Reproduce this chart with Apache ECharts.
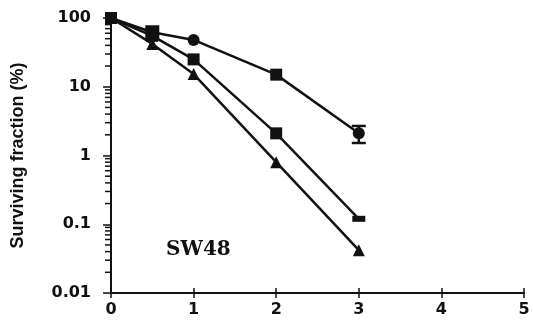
<!DOCTYPE html>
<html>
<head>
<meta charset="utf-8">
<script src="https://cdn.jsdelivr.net/npm/echarts@6/dist/echarts.min.js"></script>
<style>
  html, body { margin: 0; padding: 0; background: #fff; }
  #chart { width: 533px; height: 324px; }
</style>
</head>
<body>
<div id="chart"></div>
<script>
// dose (x) and surviving fraction (%) per curve
var doses = [0, 0.5, 1, 2, 3];
var circleVals = [100, 62, 48, 15, 2.1];
var squareVals = [100, 55, 25, 2.1, 0.12];
var triangleVals = [100, 42, 15.3, 0.8, 0.042];
var errBar = [[3, 1.52, 2.69]]; // x, low, high
var yTicks = [0.01, 0.1, 1, 10, 100];
var xTicks = [0, 1, 2, 3, 4, 5];

var ink = '#111';
var dom = document.getElementById('chart');
var chart = echarts.init(dom);

function pairs(vals) {
    return doses.map(function (d, i) { return [d, vals[i]]; });
}

// log minor ticks 2..9 within every decade
var minor = [];
for (var k = 0; k < yTicks.length - 1; k++) {
    for (var m = 2; m <= 9; m++) minor.push([0, m * yTicks[k]]);
}

var labelFont = { fontFamily: 'DejaVu Sans', fontWeight: 'bold', fontSize: 16, color: ink };

var option = {
    animation: false,
    grid: { left: 111, right: 9, top: 18, bottom: 31 },
    xAxis: [{
        type: 'value', min: 0, max: 5, interval: 1,
        axisLine: { lineStyle: { color: ink, width: 2 } },
        axisTick: { length: 5, lineStyle: { color: ink, width: 1.5 } },
        axisLabel: Object.assign({ margin: 9 }, labelFont),
        splitLine: { show: false }
    }, {
        type: 'value', min: 0, max: 5, interval: 1, position: 'bottom',
        axisLine: { show: false },
        axisTick: { inside: true, length: 5, lineStyle: { color: ink, width: 1.5 } },
        axisLabel: { show: false },
        splitLine: { show: false }
    }],
    yAxis: {
        type: 'log', logBase: 10, min: 0.01, max: 100,
        name: 'Surviving fraction (%)',
        nameLocation: 'middle', nameGap: 84,
        nameTextStyle: { fontFamily: 'Liberation Sans', fontWeight: 'bold', fontSize: 18, color: ink },
        axisLine: { show: true, lineStyle: { color: ink, width: 2 } },
        axisTick: { show: true, length: 8, lineStyle: { color: ink, width: 1.5 } },
        axisLabel: Object.assign({ margin: 20, formatter: function (v) { return String(v); } }, labelFont),
        splitLine: { show: false }
    },
    series: [
        {
            type: 'custom', clip: false, silent: true,
            data: minor,
            renderItem: function (params, api) {
                var p = api.coord([api.value(0), api.value(1)]);
                return { type: 'line', shape: { x1: p[0] - 6, y1: p[1], x2: p[0], y2: p[1] },
                    style: { stroke: ink, lineWidth: 1.5 } };
            }
        },
        {
            type: 'line', data: pairs(circleVals), color: ink,
            lineStyle: { color: ink, width: 2.5 },
            symbol: function (v, p) { return (p.dataIndex === 0 || p.dataIndex === 1 || p.dataIndex === 3) ? 'rect' : 'circle'; },
            symbolSize: function (v, p) { return p.dataIndex === 1 ? 14 : 12; },
            itemStyle: { color: ink }
        },
        {
            type: 'line', data: pairs(squareVals), color: ink,
            lineStyle: { color: ink, width: 2.5 },
            symbol: 'rect',
            symbolSize: function (v, p) { return p.dataIndex === 4 ? [13, 6] : 12; },
            itemStyle: { color: ink }
        },
        {
            type: 'line', data: pairs(triangleVals), color: ink,
            lineStyle: { color: ink, width: 2.5 },
            symbol: 'triangle', symbolSize: 12,
            itemStyle: { color: ink }
        },
        {
            type: 'custom', clip: false, silent: true,
            data: errBar,
            renderItem: function (params, api) {
                var lo = api.coord([api.value(0), api.value(1)]);
                var hi = api.coord([api.value(0), api.value(2)]);
                var w = 7;
                var s = { stroke: ink, lineWidth: 2.5 };
                return { type: 'group', children: [
                    { type: 'line', shape: { x1: lo[0], y1: lo[1], x2: hi[0], y2: hi[1] }, style: s },
                    { type: 'line', shape: { x1: lo[0] - w, y1: lo[1], x2: lo[0] + w, y2: lo[1] }, style: s },
                    { type: 'line', shape: { x1: hi[0] - w, y1: hi[1], x2: hi[0] + w, y2: hi[1] }, style: s }
                ] };
            }
        }
    ],
    graphic: [{
        type: 'text', left: 166, top: 240,
        style: { text: 'SW48', fontFamily: 'DejaVu Serif', fontWeight: 'bold', fontSize: 20, fill: ink }
    }]
};

chart.setOption(option);
</script>
</body>
</html>
